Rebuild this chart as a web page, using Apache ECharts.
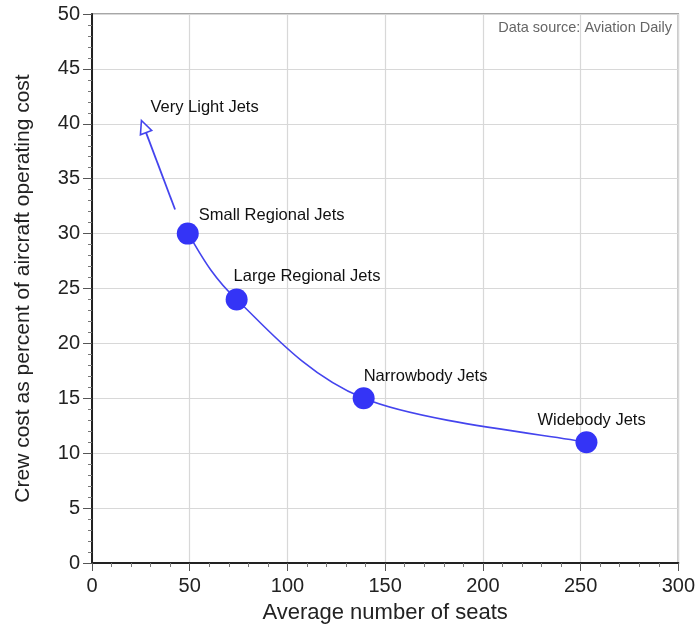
<!DOCTYPE html>
<html>
<head>
<meta charset="utf-8">
<script src="https://cdn.jsdelivr.net/npm/echarts@6/dist/echarts.min.js"></script>
<style>
html,body{margin:0;padding:0;background:#fff;}
#chart{width:698px;height:630px;}
</style>
</head>
<body>
<div id="chart"></div>
<script>
// ---- data ----
var categories = ['Small Regional Jets', 'Large Regional Jets', 'Narrowbody Jets', 'Widebody Jets'];
var seats = [49, 74, 139, 253];
var crewCostPct = [30, 24, 15, 11];
var arrowLabel = 'Very Light Jets';
var arrowFrom = [42.5, 32.2];
var arrowTo = [25.3, 40.3];
var xTicks = [0, 50, 100, 150, 200, 250, 300];
var yTicks = [0, 5, 10, 15, 20, 25, 30, 35, 40, 45, 50];

// ---- styles (label offsets in pixels) ----
var labelOffsets = [[0, -18], [-14, -23], [-11, -22], [-60, -22]];
var FONT = '"Liberation Sans", Arial, Helvetica, sans-serif';
var BLUE = '#3434f6';
var LINE = '#4444ee';

var pairs = seats.map(function (s, i) { return [s, crewCostPct[i]]; });

var points = pairs.map(function (p, i) {
  return {
    value: p,
    name: categories[i],
    label: {
      show: true,
      formatter: categories[i],
      position: 'right',
      offset: labelOffsets[i],
      distance: 0,
      color: '#111',
      opacity: 1,
      fontSize: 16.5,
      fontFamily: FONT
    }
  };
});

var chart = echarts.init(document.getElementById('chart'), null, {renderer: 'canvas'});
chart.setOption({
  animation: false,
  backgroundColor: '#fff',
  title: {
    text: 'Data source: Aviation Daily',
    right: 21,
    top: 15,
    textStyle: {color: '#666', fontSize: 14.5, fontWeight: 'normal', fontFamily: FONT}
  },
  grid: {
    left: 92, right: 17, top: 14, bottom: 67,
    show: true, borderColor: '#8a8a8a', borderWidth: 1.5, backgroundColor: 'transparent'
  },
  xAxis: {
    type: 'value',
    min: xTicks[0], max: xTicks[xTicks.length - 1], interval: xTicks[1] - xTicks[0],
    name: 'Average number of seats',
    nameLocation: 'middle',
    nameGap: 39,
    nameTextStyle: {color: '#222', fontSize: 22, fontFamily: FONT},
    axisLine: {show: true, onZero: false, lineStyle: {color: '#222', width: 2}},
    axisTick: {show: true, inside: false, length: 8, lineStyle: {color: '#555', width: 1}},
    minorTick: {show: true, splitNumber: 5, length: 4, lineStyle: {color: '#777', width: 1}},
    axisLabel: {color: '#222', fontSize: 20, fontFamily: FONT, margin: 13},
    splitLine: {show: true, lineStyle: {color: '#d8d8d8', width: 1.2}}
  },
  yAxis: {
    type: 'value',
    min: yTicks[0], max: yTicks[yTicks.length - 1], interval: yTicks[1] - yTicks[0],
    name: 'Crew cost as percent of aircraft operating cost',
    nameLocation: 'middle',
    nameGap: 58,
    nameTextStyle: {color: '#222', fontSize: 21, fontFamily: FONT},
    axisLine: {show: true, onZero: false, lineStyle: {color: '#222', width: 2}},
    axisTick: {show: true, inside: false, length: 9, lineStyle: {color: '#555', width: 1}},
    minorTick: {show: true, splitNumber: 5, length: 4, lineStyle: {color: '#777', width: 1}},
    axisLabel: {color: '#222', fontSize: 20, fontFamily: FONT, margin: 12},
    splitLine: {show: true, lineStyle: {color: '#d8d8d8', width: 1.2}}
  },
  series: [
    {
      // smooth curve through the data points (Catmull-Rom in pixel space)
      type: 'custom',
      coordinateSystem: 'cartesian2d',
      data: pairs,
      renderItem: function (params, api) {
        if (params.dataIndex !== 0) return null;
        var P = pairs.map(function (p) { return api.coord(p); });
        var n = P.length;
        var d = 'M' + P[0][0] + ' ' + P[0][1];
        for (var i = 0; i < n - 1; i++) {
          var p0 = P[Math.max(i - 1, 0)], p1 = P[i], p2 = P[i + 1], p3 = P[Math.min(i + 2, n - 1)];
          var c1 = [p1[0] + (p2[0] - p0[0]) / 6, p1[1] + (p2[1] - p0[1]) / 6];
          var c2 = [p2[0] - (p3[0] - p1[0]) / 6, p2[1] - (p3[1] - p1[1]) / 6];
          d += ' C' + c1[0] + ' ' + c1[1] + ' ' + c2[0] + ' ' + c2[1] + ' ' + p2[0] + ' ' + p2[1];
        }
        return {
          type: 'path',
          shape: {pathData: d},
          style: {fill: 'none', stroke: LINE, lineWidth: 1.6}
        };
      },
      z: 2
    },
    {
      type: 'scatter',
      data: points,
      symbol: 'circle',
      symbolSize: 22,
      itemStyle: {color: BLUE, opacity: 1},
      z: 3
    },
    {
      type: 'custom',
      coordinateSystem: 'cartesian2d',
      data: [[arrowFrom[0], arrowFrom[1], arrowTo[0], arrowTo[1]]],
      renderItem: function (params, api) {
        var p1 = api.coord([api.value(0), api.value(1)]);
        var p2 = api.coord([api.value(2), api.value(3)]);
        var dx = p2[0] - p1[0], dy = p2[1] - p1[1];
        var len = Math.sqrt(dx * dx + dy * dy);
        var ux = dx / len, uy = dy / len;
        var px = -uy, py = ux;
        var headLen = 13, headHalf = 6;
        var base = [p2[0] - ux * headLen, p2[1] - uy * headLen];
        return {
          type: 'group',
          children: [
            {
              type: 'line',
              shape: {x1: p1[0], y1: p1[1], x2: base[0], y2: base[1]},
              style: {stroke: LINE, lineWidth: 1.8}
            },
            {
              type: 'polygon',
              shape: {points: [p2, [base[0] + px * headHalf, base[1] + py * headHalf], [base[0] - px * headHalf, base[1] - py * headHalf]]},
              style: {fill: '#fff', stroke: LINE, lineWidth: 1.6}
            },
            {
              type: 'text',
              x: p2[0] + 9,
              y: p2[1] - 13,
              style: {text: arrowLabel, fill: '#111', fontSize: 16.5, fontFamily: FONT, verticalAlign: 'middle', align: 'left'}
            }
          ]
        };
      },
      z: 4
    }
  ]
});
</script>
</body>
</html>
